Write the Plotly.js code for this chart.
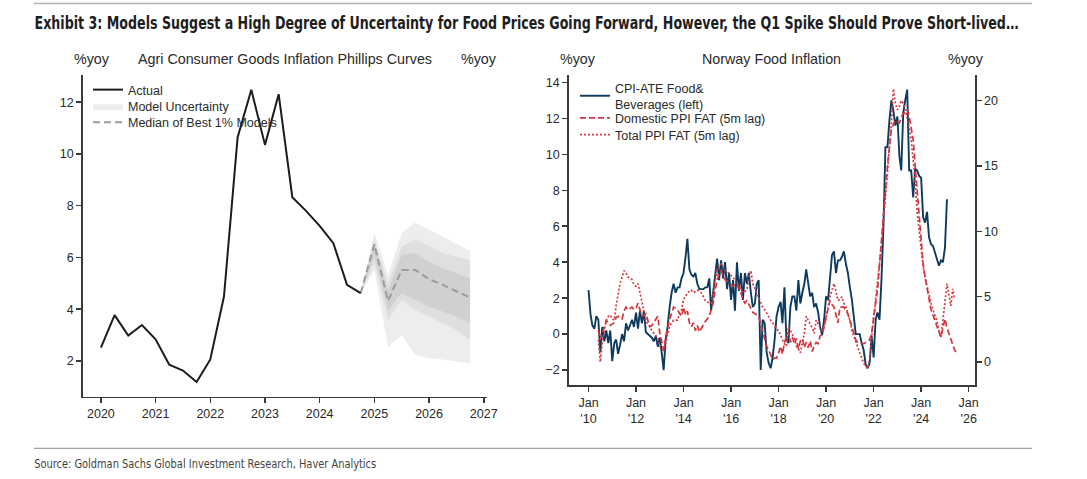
<!DOCTYPE html>
<html>
<head>
<meta charset="utf-8">
<script src="https://cdn.plot.ly/plotly-3.0.1.min.js"></script>
<style>
  html, body { margin: 0; padding: 0; background: #fff; }
  #chart { width: 1087px; height: 479px; }
</style>
</head>
<body>
<div id="chart"></div>
<script>
// ---- left panel: agri consumer goods inflation (quarterly, %yoy) ----
const actualQuarters = [2020, 2020.25, 2020.5, 2020.75, 2021, 2021.25, 2021.5, 2021.75,
  2022, 2022.25, 2022.5, 2022.75, 2023, 2023.25, 2023.5, 2023.75,
  2024, 2024.25, 2024.5, 2024.75];
const actual = [2.52, 3.77, 2.98, 3.39, 2.84, 1.86, 1.63, 1.19,
  2.06, 4.49, 10.65, 12.48, 10.35, 12.31, 8.33, 7.8,
  7.22, 6.55, 4.94, 4.62];

const forecastQuarters = [2024.75, 2025, 2025.25, 2025.5, 2025.75, 2026, 2026.25, 2026.5, 2026.75];
const median = [4.62, 6.51, 4.32, 5.52, 5.52, 5.16, 4.94, 4.68, 4.45];
const outerHi = [4.62, 6.97, 5.3, 6.94, 7.35, 7.09, 6.81, 6.52, 6.27];
const outerLo = [4.62, 5.52, 2.53, 3.0, 2.23, 2.1, 2.06, 1.97, 1.9];
const midHi = [4.62, 6.68, 5.0, 6.42, 6.7, 6.42, 6.16, 6.03, 5.9];
const midLo = [4.62, 5.78, 3.58, 4.36, 3.97, 3.71, 3.46, 3.2, 2.81];
const innerHi = [4.62, 6.55, 4.74, 6.1, 6.16, 5.84, 5.58, 5.39, 5.2];
const innerLo = [4.62, 6.03, 3.97, 4.62, 4.36, 4.1, 3.91, 3.71, 3.46];

const yearTicks = [2020, 2021, 2022, 2023, 2024, 2025, 2026, 2027];

// ---- right panel: Norway food inflation (monthly, %yoy) ----
const cpiStart = [2010, 1];   // CPI-ATE food & beverages, Jan 2010 onwards
const cpi = [
  2.45, 1.1, 0.5, 0.3, 1.0, 0.8, -1.0, 0.4, -0.4, 0.2, -0.5, 0.2,
  -1.5, -0.5, -0.3, -1.1, -0.6, 0.0, -0.4, 0.6, 0.2, 0.5, 0.8, 0.4,
  1.2, 0.3, 1.3, 0.6, 1.3, 0.1, 0.0, -0.1, -0.2, -0.4, -0.1, -0.7,
  -0.2, -1.1, -2.0, -0.3, 0.4, 1.5, 2.3, 2.8, 2.3, 2.6, 2.6, 3.1,
  3.4, 4.3, 5.3, 3.6, 3.3, 3.2, 3.4, 2.8, 2.5, 2.5, 2.5, 2.6,
  2.6, 3.1, 1.3, 2.3, 3.4, 4.2, 3.0, 4.1, 3.1, 4.0, 2.5, 3.4,
  1.9, 3.0, 1.3, 4.0, 2.4, 3.4, 1.9, 3.4, 2.8, 3.4, 2.3, 1.5,
  1.7, 2.8, 3.0, -2.0, 0.8, 0.6, -1.0, -1.6, -1.9, -1.3, -0.3, 1.0,
  1.5, 1.8, 0.6, 2.6, -0.3, -0.5, 1.5, 2.1, 2.1, 1.3, 3.0, 1.7,
  2.3, 2.8, 3.6, 2.8, 2.1, 2.3, 1.5, 1.7, 1.2, 0.4, -0.05, 0.8,
  2.1, 1.9, 3.2, 4.4, 4.6, 3.4, 4.1, 4.1, 4.3, 4.6, 3.9, 3.4,
  2.6, 1.9, 1.0, 0.0, 0.0, 0.0, -0.5, -0.9, -1.7, -1.9, -1.6, -0.1,
  -1.3, 0.8, 1.2, 0.8, 3.0, 6.0, 10.4, 10.4, 11.9, 13.0, 12.4, 11.6,
  12.1, 9.9, 9.1, 12.3, 13.0, 13.6, 9.1, 9.1, 7.6, 9.2, 9.1, 8.8,
  8.7, 6.5, 6.2, 6.8, 5.4, 5.0, 4.9, 4.5, 4.1, 3.8, 4.1, 4.0,
  4.8, 7.5
];

const ppiStart = [2010, 6];   // PPI series shown with a 5 month lag
const domesticPpi = [
  2.45, 1.7, 2.2, 2.7, 3.2, 3.0, 2.8,
  2.9, 3.0, 3.4, 3.5, 3.4, 3.3, 3.9, 4.2, 4.0, 4.1, 4.2, 4.0,
  4.1, 4.5, 4.0, 3.5, 3.6, 3.7, 3.2, 2.7, 2.8, 3.0, 3.3, 3.5,
  2.2, 1.5, 0.9, 1.8, 2.7, 3.3, 3.7, 4.2, 4.1, 4.0, 3.7, 3.5,
  4.2, 3.6, 3.9, 3.0, 2.7, 3.0, 2.4, 2.8, 2.3, 2.6, 2.9, 3.1,
  3.3, 3.5, 4.0, 4.5, 5.5, 6.2, 6.8, 7.0, 6.7, 6.3, 6.2, 6.0,
  5.9, 5.8, 5.9, 6.0, 5.6, 5.3, 4.8, 4.5, 4.7, 4.4, 4.2, 3.8,
  3.7, 3.6, 3.5, 2.9, 2.4, 1.7, 1.2, 0.9, 0.5, 0.2, 0.3, 0.3,
  0.7, 1.2, 0.6, 1.5, 1.9, 2.3, 1.5, 1.9, 1.4, 1.8, 1.0, 1.6,
  1.8, 1.1, 1.5, 1.1, 1.6, 0.8, 1.2, 1.5, 1.4, 2.0, 2.1, 2.7,
  3.5, 4.0, 4.7, 4.4, 4.2, 3.6, 3.0, 4.2, 4.2, 4.2, 3.9, 3.7,
  3.2, 2.7, 2.2, 1.7, 1.5, 1.4, 1.4, 1.4, 1.5, 1.6, 1.7, 2.2,
  3.2, 4.5, 5.5, 7.5, 9.0, 11.0, 13.2, 15.0, 16.5, 17.8, 18.2, 18.5,
  18.4, 18.3, 18.7, 19.0, 19.1, 19.3, 18.8, 18.0, 17.0, 15.0, 13.2, 11.0,
  9.0, 7.5, 6.5, 5.6, 5.0, 4.0, 3.6, 3.1, 2.7, 2.3, 1.9, 2.5,
  3.3, 2.6, 2.2, 1.6, 1.3, 0.9, 0.7
];
const totalPpi = [
  1.7, 0.0, 1.5, 2.5, 3.2, 3.5, 3.6,
  3.3, 3.2, 4.3, 5.3, 6.0, 6.5, 7.0, 6.8, 6.5, 6.4, 6.3, 5.9,
  5.8, 6.0, 5.3, 4.7, 3.9, 3.2, 2.9, 2.7, 2.4, 2.2, 2.0, 1.9,
  1.2, 1.0, 0.9, 1.5, 2.2, 2.7, 3.0, 3.2, 3.2, 3.2, 3.7, 4.0,
  4.8, 5.0, 5.3, 5.4, 5.5, 5.3, 5.4, 5.5, 5.4, 5.3, 5.0, 4.7,
  4.6, 4.5, 4.5, 5.3, 6.3, 7.0, 7.3, 7.5, 7.3, 7.0, 6.9, 6.8,
  6.6, 6.5, 6.2, 6.0, 5.8, 5.6, 5.3, 5.4, 5.5, 6.5, 7.0, 6.0,
  5.6, 5.3, 4.9, 4.5, 4.2, 4.0, 3.7, 3.5, 3.2, 3.0, 2.7, 2.5,
  2.4, 2.0, 1.7, 1.4, 1.2, 2.7, 2.4, 2.2, 1.8, 1.2, 1.0, 0.7,
  1.4, 2.2, 3.5, 3.2, 3.0, 2.6, 2.2, 3.2, 2.9, 2.7, 2.4, 2.6,
  3.5, 4.3, 5.0, 5.5, 6.0, 5.4, 4.7, 4.8, 5.0, 4.5, 4.2, 3.7,
  3.2, 2.4, 2.0, 1.4, 1.0, 0.7, 0.3, -0.1, -0.3, -0.5, 0.2, 2.2,
  3.5, 4.8, 6.0, 7.8, 9.0, 10.8, 12.4, 14.5, 16.5, 18.3, 20.9, 19.8,
  19.3, 19.6, 20.0, 19.8, 19.3, 18.6, 18.0, 17.0, 15.5, 13.9, 11.5, 10.0,
  8.5, 7.3, 6.5, 5.8, 5.0, 4.5, 4.0, 3.5, 3.1, 2.4, 1.9, 3.2,
  4.5, 6.0, 5.2, 4.3, 5.6, 4.8
];

const monthTickVals = ['2010-01-01', '2012-01-01', '2014-01-01', '2016-01-01',
  '2018-01-01', '2020-01-01', '2022-01-01', '2024-01-01', '2026-01-01'];
const monthTickText = ["Jan<br>'10", "Jan<br>'12", "Jan<br>'14", "Jan<br>'16",
  "Jan<br>'18", "Jan<br>'20", "Jan<br>'22", "Jan<br>'24", "Jan<br>'26"];

const exhibitTitle = 'Exhibit 3: Models Suggest a High Degree of Uncertainty for Food Prices Going Forward, However, the Q1 Spike Should Prove Short-lived\u2026';
const sourceNote = 'Source: Goldman Sachs Global Investment Research, Haver Analytics';

// one date per monthly value, counted on from the first month
function monthDates(start, n) {
  let out = [];
  for (let i = 0; i < n; i++) {
    let y = start[0] + Math.floor((start[1] - 1 + i) / 12);
    let m = (start[1] - 1 + i) % 12 + 1;
    out.push(y + '-' + String(m).padStart(2, '0') + '-01');
  }
  return out;
}

function band(xs, hi, lo) {
  return {
    x: xs.concat(xs.slice().reverse()),
    y: hi.concat(lo.slice().reverse())
  };
}

const W = 1087, H = 479;
const px = v => v / W;
const py = v => 1 - v / H;

const ink = '#3a3a3a';
const chartFont = 'Liberation Sans, Arial, Helvetica, sans-serif';
const narrowFont = 'Liberation Sans Narrow, Arial Narrow, DejaVu Sans Condensed, sans-serif';

let outer = band(forecastQuarters, outerHi, outerLo);
let mid = band(forecastQuarters, midHi, midLo);
let inner = band(forecastQuarters, innerHi, innerLo);

let data = [
  {
    type: 'scatter', mode: 'lines', name: 'Model Uncertainty',
    x: outer.x, y: outer.y, xaxis: 'x', yaxis: 'y',
    fill: 'toself', fillcolor: '#ededed', line: {width: 0},
    legend: 'legend2', hoverinfo: 'skip'
  },
  {
    type: 'scatter', mode: 'lines', showlegend: false,
    x: mid.x, y: mid.y, xaxis: 'x', yaxis: 'y',
    fill: 'toself', fillcolor: '#dfdfdf', line: {width: 0}, hoverinfo: 'skip'
  },
  {
    type: 'scatter', mode: 'lines', showlegend: false,
    x: inner.x, y: inner.y, xaxis: 'x', yaxis: 'y',
    fill: 'toself', fillcolor: '#d0d0d0', line: {width: 0}, hoverinfo: 'skip'
  },
  {
    type: 'scatter', mode: 'lines', name: 'Median of Best 1% Models',
    x: forecastQuarters, y: median, xaxis: 'x', yaxis: 'y',
    line: {color: '#9b9b9b', width: 2, dash: '7px,4px'},
    legend: 'legend3'
  },
  {
    type: 'scatter', mode: 'lines', name: 'Actual',
    x: actualQuarters, y: actual, xaxis: 'x', yaxis: 'y',
    line: {color: '#1c1c1c', width: 2},
    legend: 'legend'
  },
  {
    type: 'scatter', mode: 'lines', name: 'CPI-ATE Food&amp;<br>Beverages (left)',
    x: monthDates(cpiStart, cpi.length), y: cpi, xaxis: 'x2', yaxis: 'y3',
    line: {color: '#0d3b5f', width: 1.9},
    legend: 'legend4'
  },
  {
    type: 'scatter', mode: 'lines', name: 'Domestic PPI FAT (5m lag)',
    x: monthDates(ppiStart, domesticPpi.length), y: domesticPpi, xaxis: 'x2', yaxis: 'y4',
    line: {color: '#d3353c', width: 1.7, dash: '6px,3px'},
    legend: 'legend5'
  },
  {
    type: 'scatter', mode: 'lines', name: 'Total PPI FAT (5m lag)',
    x: monthDates(ppiStart, totalPpi.length), y: totalPpi, xaxis: 'x2', yaxis: 'y4',
    line: {color: '#d63a42', width: 1.7, dash: '2px,2px'},
    legend: 'legend6'
  }
];

function legendAt(x, y) {
  return {
    x: px(x), y: py(y), xanchor: 'left', yanchor: 'middle',
    bgcolor: 'rgba(0,0,0,0)', borderwidth: 0,
    font: {family: chartFont, size: 12.5, color: '#2a2a2a'},
    itemwidth: 30, tracegroupgap: 0
  };
}

let axisBase = {
  showline: true, linecolor: ink, linewidth: 1.5,
  ticks: 'outside', ticklen: 5, tickwidth: 1.5, tickcolor: ink,
  showgrid: false, zeroline: false,
  tickfont: {family: chartFont, size: 12.5, color: '#2a2a2a'}
};

function textAt(x, y, text, size, extra) {
  return Object.assign({
    xref: 'paper', yref: 'paper', x: px(x), y: py(y), text: text,
    showarrow: false, xanchor: 'center', yanchor: 'middle',
    font: {family: chartFont, size: size, color: '#2a2a2a'}
  }, extra || {});
}

// header and source are set in a condensed face: they are centred on the span
// they cover in the reference and fitted to that width after drawing;
// the header is drawn a bit smaller so it fits the page, then stretched upright
const titleSpan = [34, 1018];
const sourceSpan = [34, 376];
const titleSize = 14.5;
const titleStretch = 1.2;

let layout = {
  width: W, height: H,
  margin: {l: 0, r: 0, t: 0, b: 0},
  paper_bgcolor: '#fff', plot_bgcolor: 'rgba(0,0,0,0)',
  font: {family: chartFont},
  xaxis: Object.assign({}, axisBase, {
    domain: [px(82.7), px(487.3)], anchor: 'y',
    range: [2019.667, 2027.065], tickvals: yearTicks
  }),
  yaxis: Object.assign({}, axisBase, {
    domain: [py(396.7), py(75)], anchor: 'x',
    range: [0.62, 13.05], tickvals: [2, 4, 6, 8, 10, 12]
  }),
  yaxis2: Object.assign({}, axisBase, {
    overlaying: 'y', side: 'right', anchor: 'x',
    range: [0.62, 13.05], tickvals: [2, 4, 6, 8, 10, 12]
  }),
  xaxis2: Object.assign({}, axisBase, {
    domain: [px(568.6), px(975)], anchor: 'y3', type: 'date',
    range: ['2009-03-01', '2026-04-08'],
    tickvals: monthTickVals, ticktext: monthTickText
  }),
  yaxis3: Object.assign({}, axisBase, {
    domain: [py(385), py(75)], anchor: 'x2',
    range: [-2.83, 14.41], dtick: 2
  }),
  yaxis4: Object.assign({}, axisBase, {
    overlaying: 'y3', side: 'right', anchor: 'x2',
    range: [-1.76, 21.96], tickvals: [0, 5, 10, 15, 20]
  }),
  legend: legendAt(88, 90),
  legend2: legendAt(88, 106.7),
  legend3: legendAt(88, 122.7),
  legend4: legendAt(575, 96),
  legend5: legendAt(575, 118.3),
  legend6: legendAt(575, 135),
  annotations: [
    textAt((titleSpan[0] + titleSpan[1]) / 2, 23, exhibitTitle, titleSize,
      {font: {family: narrowFont, size: titleSize, color: '#1e1e1e', weight: 'bold'}}),
    textAt((sourceSpan[0] + sourceSpan[1]) / 2, 463, sourceNote, 13,
      {font: {family: narrowFont, size: 13, color: '#444'}}),
    textAt(92.3, 59, '%yoy', 14.3),
    textAt(285, 59, 'Agri Consumer Goods Inflation Phillips Curves', 14.3),
    textAt(478.7, 59, '%yoy', 14.3),
    textAt(578.4, 59, '%yoy', 14.3),
    textAt(771.7, 59, 'Norway Food Inflation', 14.3),
    textAt(965.8, 59, '%yoy', 14.3)
  ],
  shapes: [
    {type: 'line', xref: 'paper', yref: 'paper', x0: px(34), x1: px(1032), y0: py(3.5), y1: py(3.5),
      line: {color: '#b4b4b4', width: 1.5}},
    {type: 'line', xref: 'paper', yref: 'paper', x0: px(34), x1: px(1032), y0: py(448.3), y1: py(448.3),
      line: {color: '#8c8c8c', width: 1}}
  ]
};

Plotly.newPlot('chart', data, layout, {displayModeBar: false, staticPlot: true}).then(gd => {
  gd.querySelectorAll('.annotation-text-g').forEach(g => {
    let t = g.querySelector('.annotation-text');
    if (!t) return;
    let span = null, stretch = 1;
    if (t.textContent === exhibitTitle) { span = titleSpan; stretch = titleStretch; }
    if (t.textContent === sourceNote) span = sourceSpan;
    if (!span) return;
    let newW = span[1] - span[0];
    t.setAttribute('textLength', newW);
    t.setAttribute('lengthAdjust', 'spacingAndGlyphs');
    if (stretch !== 1) {
      let bb = t.getBBox();
      let cy = bb.y + bb.height / 2;
      t.setAttribute('transform',
        'translate(0,' + cy + ') scale(1,' + stretch + ') translate(0,' + (-cy) + ')');
    }
    g.querySelectorAll('rect').forEach(r => {
      let w = parseFloat(r.getAttribute('width'));
      let x = parseFloat(r.getAttribute('x') || 0);
      if (w > newW) {
        r.setAttribute('x', x + (w - newW) / 2);
        r.setAttribute('width', newW);
      }
    });
  });
});
</script>
</body>
</html>
